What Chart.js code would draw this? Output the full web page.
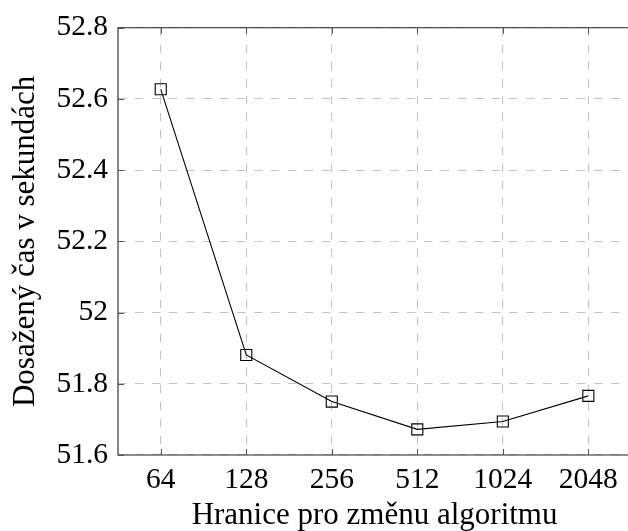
<!DOCTYPE html>
<html>
<head>
<meta charset="utf-8">
<script src="https://cdn.jsdelivr.net/npm/chart.js@4"></script>
<style>
  html, body { margin: 0; padding: 0; background: #fff; overflow: hidden; }
  #wrap { width: 640px; height: 531px; }
</style>
</head>
<body>
<div id="wrap"><canvas id="chart" width="640" height="531"></canvas></div>
<script>
// hranice (prahy) a naměřené časy
const thresholds = ["64", "128", "256", "512", "1024", "2048"];
const times = [52.627, 51.881, 51.750, 51.672, 51.694, 51.766];
const yTicks = [51.6, 51.8, 52, 52.2, 52.4, 52.6, 52.8];

const FONT = "'Liberation Serif', 'DejaVu Serif', serif";

// rámeček grafu + krátké značky dovnitř
const frame = {
  id: "frame",
  afterDraw(chart) {
    const { ctx, chartArea: a, scales } = chart;
    ctx.save();
    ctx.strokeStyle = "#222";
    ctx.lineWidth = 1.1;
    ctx.beginPath();
    ctx.moveTo(a.right, a.top);
    ctx.lineTo(a.left, a.top);
    ctx.lineTo(a.left, a.bottom);
    ctx.lineTo(a.right, a.bottom);
    ctx.stroke();
    ctx.lineWidth = 1;
    ctx.strokeStyle = "#555";
    ctx.beginPath();
    scales.x.ticks.forEach((t, i) => {
      const x = Math.round(scales.x.getPixelForTick(i)) + 0.5;
      ctx.moveTo(x, a.bottom); ctx.lineTo(x, a.bottom - 6);
      ctx.moveTo(x, a.top); ctx.lineTo(x, a.top + 6);
    });
    scales.y.ticks.forEach((t, i) => {
      const y = Math.round(scales.y.getPixelForTick(i)) + 0.5;
      ctx.moveTo(a.left, y); ctx.lineTo(a.left + 6, y);
    });
    ctx.stroke();
    ctx.restore();
  }
};

new Chart(document.getElementById("chart"), {
  type: "line",
  data: {
    labels: thresholds,
    datasets: [{
      data: times,
      borderColor: "#000",
      borderWidth: 1.1,
      backgroundColor: "rgba(0,0,0,0)",
      pointStyle: "rect",
      pointRadius: 7.8,
      pointBorderWidth: 1.1,
      pointBorderColor: "#000",
      pointBackgroundColor: "rgba(0,0,0,0)",
      tension: 0,
      fill: false
    }]
  },
  options: {
    responsive: false,
    devicePixelRatio: 1,
    animation: false,
    layout: { padding: { top: 25, right: 8.5, left: 0, bottom: 0 } },
    plugins: { legend: { display: false }, tooltip: { enabled: false } },
    scales: {
      x: {
        offset: true,
        grid: { offset: false, color: "#c4c4c4", lineWidth: 1.1, drawTicks: false },
        border: { display: false, dash: [8.5, 8.5] },
        ticks: { color: "#000", padding: 8, font: { family: FONT, size: 29.5 } },
        title: {
          display: true,
          text: "Hranice pro změnu algoritmu",
          color: "#000",
          padding: { top: 0, bottom: -3.5 },
          font: { family: FONT, size: 31 }
        },
        afterFit(scale) { scale.height = 76; }
      },
      y: {
        min: 51.6,
        max: 52.8,
        afterBuildTicks(scale) { scale.ticks = yTicks.map(v => ({ value: v })); },
        grid: { color: "#c4c4c4", lineWidth: 1.1, drawTicks: false },
        border: { display: false, dash: [8.5, 8.5] },
        ticks: {
          color: "#000",
          padding: 10,
          font: { family: FONT, size: 29.5 },
          callback: v => String(v)
        },
        title: {
          display: true,
          text: "Dosažený čas v sekundách",
          color: "#000",
          padding: { top: 7, bottom: 0 },
          font: { family: FONT, size: 31 }
        },
        afterFit(scale) { scale.width = 118; }
      }
    }
  },
  plugins: [frame]
});
</script>
</body>
</html>
